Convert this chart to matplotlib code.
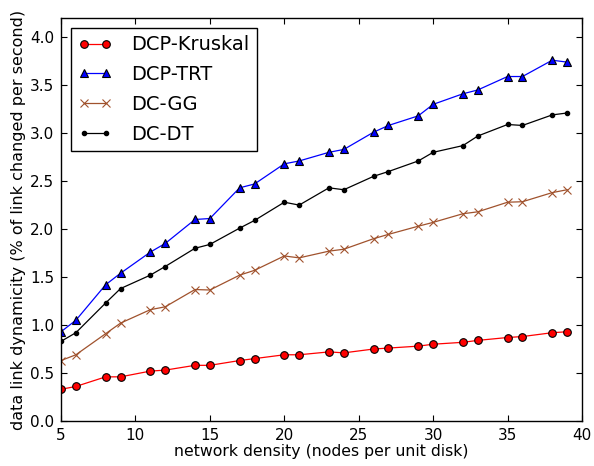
import matplotlib
matplotlib.use("Agg")
import matplotlib.pyplot as plt

density = [5, 6, 8, 9, 11, 12, 14, 15, 17, 18, 20, 21, 23, 24, 26, 27, 29, 30, 32, 33, 35, 36, 38, 39]

dcp_kruskal = [0.33, 0.36, 0.46, 0.46, 0.52, 0.53, 0.58, 0.58, 0.63, 0.65, 0.69, 0.69,
               0.72, 0.71, 0.75, 0.76, 0.78, 0.80, 0.82, 0.84, 0.87, 0.88, 0.92, 0.93]
dcp_trt = [0.93, 1.05, 1.42, 1.54, 1.76, 1.85, 2.10, 2.11, 2.43, 2.47, 2.68, 2.71,
           2.80, 2.83, 3.01, 3.08, 3.18, 3.30, 3.41, 3.45, 3.59, 3.59, 3.76, 3.74]
dc_gg = [0.63, 0.69, 0.91, 1.02, 1.16, 1.19, 1.37, 1.365, 1.52, 1.57, 1.72, 1.70,
         1.77, 1.79, 1.90, 1.945, 2.03, 2.07, 2.16, 2.18, 2.28, 2.285, 2.38, 2.41]
dc_dt = [0.83, 0.92, 1.23, 1.38, 1.52, 1.61, 1.80, 1.84, 2.01, 2.09, 2.28, 2.25,
         2.43, 2.41, 2.55, 2.60, 2.71, 2.80, 2.87, 2.97, 3.09, 3.08, 3.19, 3.21]

fig = plt.figure(figsize=(5.94, 4.66), dpi=100)
ax = fig.add_axes([0.1027, 0.0966, 0.8771, 0.8648])

lw = 0.9
ax.plot(density, dcp_kruskal, color="red", marker="o", markersize=5.5,
        markerfacecolor="red", markeredgecolor="black", markeredgewidth=0.8,
        linewidth=lw, label="DCP-Kruskal")
ax.plot(density, dcp_trt, color="blue", marker="^", markersize=6,
        markerfacecolor="blue", markeredgecolor="black", markeredgewidth=0.8,
        linewidth=lw, label="DCP-TRT")
ax.plot(density, dc_gg, color="#a0522d", marker="x", markersize=6,
        markeredgewidth=0.8, linewidth=lw, label="DC-GG")
ax.plot(density, dc_dt, color="black", marker=".", markersize=6,
        linewidth=lw, label="DC-DT")

ax.set_xlim(5, 40)
ax.set_ylim(0, 4.2)
ax.set_xticks(range(5, 41, 5))
yt = [0.0, 0.5, 1.0, 1.5, 2.0, 2.5, 3.0, 3.5, 4.0]
ax.set_yticks(yt)
ax.set_yticklabels(["%.1f" % v for v in yt])
ax.tick_params(direction="in", top=True, right=True, length=4.5, width=0.8,
               labelsize=11, pad=5)
for s in ax.spines.values():
    s.set_linewidth(1.0)

ax.set_xlabel("network density (nodes per unit disk)", fontsize=11.3, labelpad=1)
ax.set_ylabel("data link dynamicity (% of link changed per second)", fontsize=11.5, labelpad=3)

leg = ax.legend(loc="upper left", numpoints=2, fontsize=14, fancybox=False,
                framealpha=1, edgecolor="black", borderaxespad=0.5,
                handlelength=1.7, labelspacing=0.55, handletextpad=1.0,
                borderpad=0.4)
leg.get_frame().set_linewidth(1.0)

fig.savefig("out.png", dpi=100)
